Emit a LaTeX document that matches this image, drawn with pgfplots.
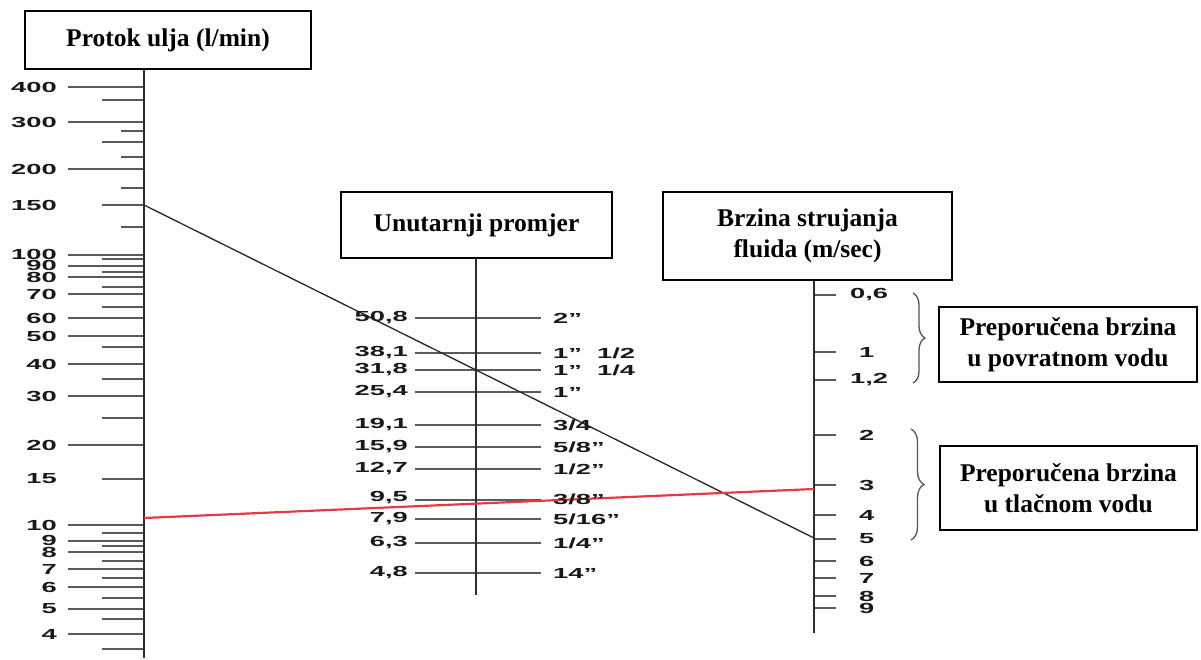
\documentclass[border=0pt]{standalone}
\usepackage{fontspec}
\setmainfont{Liberation Serif}
\setsansfont{Liberation Sans}
\usepackage{pgfplots}
\usepackage{pgfplotstable}
\pgfplotsset{compat=1.18}
\usetikzlibrary{decorations.pathreplacing}

\definecolor{tickgray}{RGB}{90,90,90}
\definecolor{axisgray}{RGB}{45,45,45}
\definecolor{labgray}{RGB}{25,25,25}
\definecolor{bracegray}{RGB}{85,85,85}
\definecolor{redline}{RGB}{228,58,72}

% wide bold sans used for the scale numbers
\newcommand{\lab}[1]{\scalebox{1.87}[1]{\fontsize{14.6}{15}\selectfont\sffamily\bfseries #1}}

% tick marks: start x, y, length (pixel units, y downwards)
\pgfplotstableread{
x y u
68 87 76
68 122 76
68 169 76
68 255 76
68 266 76
68 277 76
68 294 76
68 318 76
68 336 76
68 364 76
68 396 76
68 445 76
68 525 76
68 541 76
68 552 76
68 569 76
68 587 76
68 609 76
68 634 76
102 100 42
102 142 42
102 205 42
102 259 42
102 272 42
102 287 42
102 307 42
102 347 42
102 379 42
102 418 42
102 479 42
102 533 42
102 546 42
102 561 42
102 578 42
102 598 42
102 619 42
102 649 42
121 131 23
121 157 23
121 188 23
121 227 23
}\lefttick

\pgfplotstableread{
x y u
415 318 126
415 353 126
415 370 126
415 392 126
415 425 126
415 447 126
415 469 126
415 500 126
415 519 126
415 543 126
415 573 126
}\midtick

\pgfplotstableread{
x y u
814 295 22
814 352 22
814 380 22
814 435 22
814 485 22
814 515 22
814 539 22
814 561 22
814 578 22
814 596 22
814 608 22
}\righttick

\pgfplotstableread[col sep=semicolon]{
x;y;t
57;87;400
57;122;300
57;169;200
57;205;150
57;254;100
57;265;90
57;277;80
57;294;70
57;318;60
57;336;50
57;364;40
57;396;30
57;445;20
57;479;15
57;525;10
57;540;9
57;552;8
57;569;7
57;587;6
57;609;5
57;634;4
}\leftlab

\pgfplotstableread[col sep=semicolon]{
x;y;t
408;318;50,8
408;353;38,1
408;370;31,8
408;392;25,4
408;425;19,1
408;447;15,9
408;469;12,7
408;498;9,5
408;519;7,9
408;543;6,3
408;573;4,8
}\midleftlab

\pgfplotstableread[col sep=semicolon]{
x;y;t
553;318;2”
553;353;1”~~1/2
553;370;1”~~1/4
553;392;1”
553;425;3/4
553;447;5/8”
553;469;1/2”
553;499;3/8”
553;519;5/16”
553;543;1/4”
553;573;14”
}\midrightlab

\pgfplotstableread[col sep=semicolon]{
x;y;t
850;295;0,6
859;352;1
850;380;1,2
859;435;2
859;485;3
859;515;4
859;539;5
859;561;6
859;578;7
859;596;8
859;608;9
}\rightlab

\pgfplotsset{
  labs/.style={only marks, mark=*, mark size=0pt, mark options={draw=none, fill=none},
    point meta=explicit symbolic, nodes near coords={\lab{\pgfplotspointmeta}},
    nodes near coords style={anchor=#1, inner sep=0pt, text=labgray}},
  ticks/.style={quiver={u=\thisrow{u}, v=0}, draw=tickgray, line width=1.3pt, mark=none},
}
\tikzset{
  tbox/.style={draw, fill=white, line width=1.5pt, align=center, inner sep=0pt,
    font=\fontsize{25.5}{31}\selectfont\rmfamily\bfseries},
}

\begin{document}
\begin{tikzpicture}
\begin{axis}[
  width=1201pt, height=658pt, scale only axis,
  xmin=0, xmax=1201, ymin=0, ymax=658, y dir=reverse,
  hide axis, clip=false,
]
\addplot[draw=none] coordinates {(0,0) (1201,658)};

\addplot[ticks] table {\lefttick};
\addplot[ticks] table {\midtick};
\addplot[ticks] table {\righttick};

\addplot[axisgray, line width=2.2pt] coordinates {(144,69) (144,658)};
\addplot[axisgray, line width=2.2pt] coordinates {(476,258) (476,595)};
\addplot[axisgray, line width=2.2pt] coordinates {(814,280) (814,633)};

\addplot[labs=east] table[x=x, y=y, meta=t] {\leftlab};
\addplot[labs=east] table[x=x, y=y, meta=t] {\midleftlab};
\addplot[labs=west] table[x=x, y=y, meta=t] {\midrightlab};
\addplot[labs=west] table[x=x, y=y, meta=t] {\rightlab};

\addplot[black!85, line width=1.3pt] coordinates {(144,205) (814,538)};
\addplot[redline, line width=2.2pt] coordinates {(144,518) (814,489)};

\draw[bracegray, line width=1.3pt, decorate, decoration={brace, amplitude=12pt}]
  (axis cs:913,293) -- (axis cs:913,383);
\draw[bracegray, line width=1.3pt, decorate, decoration={brace, amplitude=13pt}]
  (axis cs:911,429) -- (axis cs:911,540);

\node[tbox, minimum width=286pt, minimum height=58pt] at (axis cs:168,40) {Protok ulja (l/min)};
\node[tbox, minimum width=271pt, minimum height=66pt] at (axis cs:476.5,225) {Unutarnji promjer};
\node[tbox, minimum width=289pt, minimum height=88pt] at (axis cs:807.5,236) {Brzina strujanja\\fluida (m/sec)};
\node[tbox, minimum width=258pt, minimum height=75pt] at (axis cs:1068,344.5) {Preporučena brzina\\u povratnom vodu};
\node[tbox, minimum width=257pt, minimum height=84pt] at (axis cs:1068.5,488) {Preporučena brzina\\u tlačnom vodu};
\end{axis}
\end{tikzpicture}
\end{document}
